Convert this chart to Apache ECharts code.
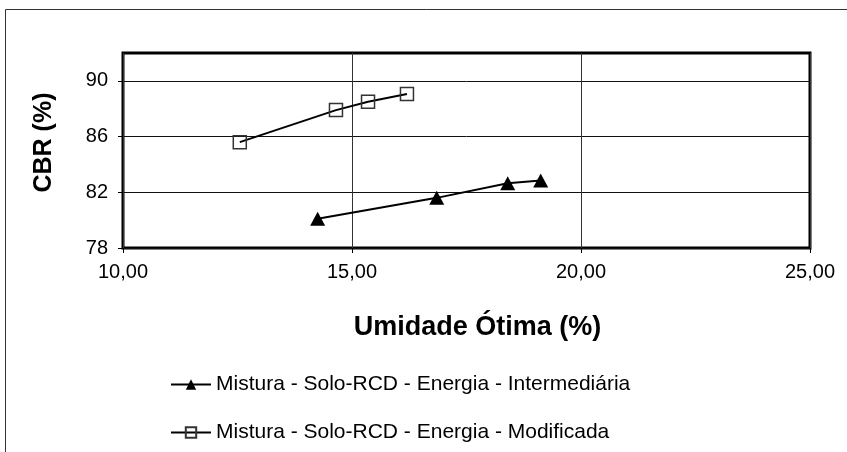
<!DOCTYPE html>
<html>
<head>
<meta charset="utf-8">
<script src="https://cdn.jsdelivr.net/npm/echarts@6/dist/echarts.min.js"></script>
<style>
html,body{margin:0;padding:0;background:#fff;}
#chart{width:847px;height:452px;}
</style>
</head>
<body>
<div id="chart"></div>
<script>
// Data
const serieNames = ['Mistura - Solo-RCD - Energia - Intermediária', 'Mistura - Solo-RCD - Energia - Modificada'];
const umidadeInter = [14.25, 16.85, 18.4, 19.12];
const cbrInter = [80.1, 81.6, 82.65, 82.85];
const umidadeMod = [12.55, 14.65, 15.35, 16.2];
const cbrMod = [85.6, 87.9, 88.5, 89.05];
const yTicks = [78, 82, 86, 90];
const xTitle = 'Umidade Ótima (%)';
const yTitle = 'CBR (%)';

const font = '"Liberation Sans", Arial, sans-serif';
const chart = echarts.init(document.getElementById('chart'), null, {renderer: 'canvas'});

function pairs(xs, ys) { return xs.map((x, i) => [x, ys[i]]); }

chart.setOption({
  animation: false,
  textStyle: {fontFamily: font, color: '#000'},
  graphic: [{
    type: 'rect',
    shape: {x: 5.5, y: 9.5, width: 900, height: 500},
    style: {fill: 'none', stroke: '#333', lineWidth: 1},
    silent: true, z: -10
  }],
  grid: {
    left: 123, top: 53, width: 687, height: 195,
    show: true, borderColor: '#000', borderWidth: 3, backgroundColor: 'transparent'
  },
  xAxis: {
    type: 'value', min: 10, max: 25, interval: 5,
    name: xTitle, nameLocation: 'middle', nameGap: 66,
    nameTextStyle: {fontFamily: font, fontSize: 27, fontWeight: 'bold', color: '#000', padding: [0, 0, 0, 22]},
    axisLine: {show: false},
    axisTick: {show: true, length: 5, lineStyle: {color: '#000', width: 1}},
    axisLabel: {fontFamily: font, fontSize: 20, color: '#000', margin: 14,
      formatter: v => v.toFixed(2).replace('.', ',')},
    splitLine: {show: true, lineStyle: {color: '#333', width: 1}}
  },
  yAxis: {
    type: 'value', min: 78, max: 92,
    name: yTitle, nameLocation: 'middle', nameGap: 66, nameRotate: 90,
    nameTextStyle: {fontFamily: font, fontSize: 25, fontWeight: 'bold', color: '#000', padding: [0, 0, 0, 16]},
    axisLine: {show: false},
    axisTick: {show: true, length: 5, customValues: yTicks, lineStyle: {color: '#000', width: 1}},
    axisLabel: {fontFamily: font, fontSize: 20, color: '#000', margin: 15, customValues: yTicks},
    splitLine: {show: true, lineStyle: {color: '#111', width: 1}}
  },
  legend: {
    orient: 'vertical', left: 165, top: 369, itemGap: 27,
    itemWidth: 40, itemHeight: 13,
    textStyle: {fontFamily: font, fontSize: 21, color: '#000'},
    data: serieNames
  },
  series: [{
    name: serieNames[0], type: 'line', data: pairs(umidadeInter, cbrInter),
    symbol: 'triangle', symbolSize: [15, 14],
    lineStyle: {color: '#000', width: 2},
    itemStyle: {color: '#000', borderWidth: 0}
  }, {
    name: serieNames[1], type: 'line', data: pairs(umidadeMod, cbrMod),
    symbol: 'rect', symbolSize: 13,
    lineStyle: {color: '#000', width: 2},
    itemStyle: {color: 'rgba(255,255,255,0)', borderColor: '#333', borderWidth: 1.5}
  }]
});
</script>
</body>
</html>
